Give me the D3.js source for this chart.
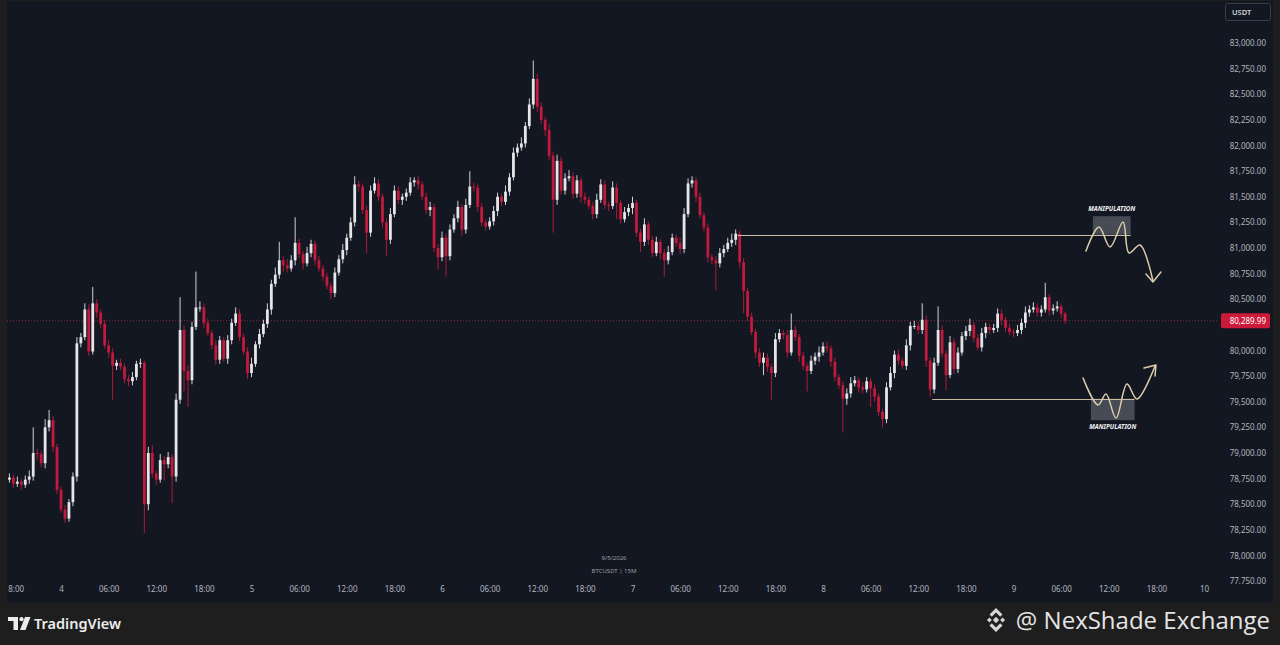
<!DOCTYPE html>
<html><head><meta charset="utf-8">
<script src="https://cdn.jsdelivr.net/npm/d3@7"></script>
<style>
html,body{margin:0;padding:0;background:#1e1e1e;overflow:hidden}
svg{display:block}
</style></head><body>
<svg id="c" width="1280" height="645"></svg>
<script>
// ---- DATA (BTCUSDT, 30-minute steps) ----
const firstCandle = "2026-05-03T17:30:00Z";
const candleMinutes = 30;
const firstOpen = 78740;
const closes = [
78760,78700,78720,78690,78740,78770,79000,78990,78900,79250,
79320,79060,78640,78450,78360,78520,78770,80070,80130,80400,
79990,80460,80370,80260,80050,79980,79850,79880,79840,79720,
79700,79740,79870,79880,78500,79000,78800,78740,78930,78890,
78960,78770,79520,80200,79800,79710,80230,80420,80420,80270,
80170,80050,79910,80100,79920,80100,80270,80360,80130,79990,
79780,79870,80060,80160,80260,80400,80650,80740,80880,80830,
80800,80880,81050,80940,80850,80950,81040,80880,80800,80720,
80630,80560,80760,80890,80980,81100,81250,81620,81600,81370,
81150,81560,81630,81500,81250,81080,81330,81560,81470,81500,
81540,81640,81660,81620,81500,81370,81400,81000,80910,81100,
80920,81180,81290,81400,81180,81420,81600,81590,81400,81250,
81210,81260,81360,81500,81450,81550,81690,81930,81980,82020,
82190,82400,82650,82380,82250,82150,81900,81470,81850,81560,
81680,81700,81530,81660,81500,81470,81410,81330,81470,81620,
81420,81410,81590,81440,81280,81350,81390,81440,81150,81060,
81230,81080,80950,81060,80950,80880,80960,81100,81050,80990,
81330,81630,81660,81500,81320,81200,80910,80880,80850,80950,
80990,81050,81080,81140,80860,80580,80330,80180,79980,79880,
79930,79840,79780,80110,80170,80150,79980,80200,80130,79950,
79850,79800,79900,79940,79980,80040,80020,79890,79740,79660,
79530,79580,79680,79710,79640,79620,79700,79630,79550,79400,
79330,79640,79780,79960,79900,79850,80050,80240,80240,80200,
80300,79900,79620,79880,80200,79970,79760,80080,79820,79980,
80140,80190,80250,80120,80030,80170,80230,80200,80220,80360,
80300,80220,80180,80170,80200,80270,80370,80400,80420,80370,
80400,80520,80390,80410,80430,80360,80289.99];
const wickUp = [
40,30,50,30,40,60,250,40,30,80, 100,40,30,30,40,30,40,60,40,60,
50,160,40,30,40,50,40,30,40,30, 40,50,30,40,20,60,80,30,60,40,
50,30,60,320,40,60,50,350,60,40, 40,30,50,40,30,50,40,60,40,30,
40,60,30,50,40,60,40,70,180,40, 60,50,250,40,30,60,40,30,40,30,
40,30,50,40,60,40,50,80,40,30, 40,50,60,40,30,40,60,50,40,30,
40,50,30,40,30,40,50,30,40,60, 40,50,40,60,30,60,150,40,30,40,
30,40,50,40,30,60,40,50,40,60, 40,60,180,50,40,30,60,40,60,40,
50,60,40,50,30,40,30,40,60,50, 40,30,60,40,30,50,40,60,30,40,
60,30,40,50,30,40,60,40,30,50, 60,50,40,30,40,30,40,30,40,50,
40,50,60,40,30,40,30,40,30,40, 50,40,30,60,40,30,50,160,40,30,
40,30,50,40,60,40,50,30,40,30, 40,50,60,40,30,50,40,30,40,30,
30,50,60,40,50,30,60,40,50,40, 160,40,30,50,230,40,30,60,40,50,
40,50,60,30,40,50,40,30,40,50, 40,30,40,30,50,40,60,40,50,40,
40,140,30,40,50,30,20];
const wickDn = [
30,40,30,50,30,40,40,60,40,50, 40,50,40,30,40,30,40,50,40,30,
40,30,50,40,30,50,330,40,30,40, 50,40,30,40,280,60,40,50,30,160,
40,260,50,40,200,260,40,30,40,50, 30,40,50,40,30,50,40,30,40,30,
60,40,30,40,30,40,50,30,40,60, 40,30,50,40,60,30,40,50,30,40,
30,60,40,30,40,50,30,40,50,40, 200,40,30,40,50,160,40,30,40,50,
40,30,40,50,30,40,60,40,125,40, 200,40,30,40,60,40,30,40,50,40,
40,30,40,50,40,30,40,30,40,30, 40,30,40,50,40,60,40,320,50,40,
40,30,50,40,60,40,30,50,40,30, 40,50,30,160,40,30,40,60,40,100,
40,50,40,30,60,160,40,30,40,50, 40,30,40,50,30,40,50,40,260,40,
40,30,40,50,60,215,40,30,50,40, 120,50,260,40,30,40,50,30,40,60,
40,200,30,40,50,30,40,50,40,30, 330,60,40,30,50,40,30,180,50,40,
80,40,30,50,40,30,40,50,30,40, 40,60,70,40,30,40,150,30,50,40,
30,40,50,40,30,40,50,40,30,40, 50,40,30,40,30,40,50,40,30,40,
40,30,50,40,30,40,30];
const lastPrice = 80289.99;
// 80,250 is hidden behind the last-price label in the reference
const priceTicks = [77750,78000,78250,78500,78750,79000,79250,79500,79750,80000,80500,
  80750,81000,81250,81500,81750,82000,82250,82500,82750,83000];
const timeTickTimes = ["2026-05-03T18:00Z","2026-05-04T00:00Z","2026-05-04T06:00Z","2026-05-04T12:00Z","2026-05-04T18:00Z",
  "2026-05-05T00:00Z","2026-05-05T06:00Z","2026-05-05T12:00Z","2026-05-05T18:00Z",
  "2026-05-06T00:00Z","2026-05-06T06:00Z","2026-05-06T12:00Z","2026-05-06T18:00Z",
  "2026-05-07T00:00Z","2026-05-07T06:00Z","2026-05-07T12:00Z","2026-05-07T18:00Z",
  "2026-05-08T00:00Z","2026-05-08T06:00Z","2026-05-08T12:00Z","2026-05-08T18:00Z",
  "2026-05-09T00:00Z","2026-05-09T06:00Z","2026-05-09T12:00Z","2026-05-09T18:00Z","2026-05-10T00:00Z"];
const timeTickLabels = ["18:00","4","06:00","12:00","18:00","5","06:00","12:00","18:00","6","06:00","12:00","18:00",
  "7","06:00","12:00","18:00","8","06:00","12:00","18:00","9","06:00","12:00","18:00","10"];
// drawn levels and zones
const levelTop = {from:"2026-05-07T13:15Z", to:"2026-05-09T14:45Z", price:81130};
const levelBottom = {from:"2026-05-08T13:45Z", to:"2026-05-09T15:15Z", price:79527};
const zoneTop = {from:"2026-05-09T10:00Z", to:"2026-05-09T14:45Z", lo:81130, hi:81310};
const zoneBottom = {from:"2026-05-09T09:45Z", to:"2026-05-09T15:15Z", lo:79320, hi:79530};
// hand-drawn paths: [hours after 4 May 00:00, price]
const pathTop = [[129.13,80971],[130.77,81205],[132.16,81010],[133.80,81254],[134.55,80951],[135.94,81029],[137.57,80678]];
const arrowTop = [[136.69,80746],[137.57,80668],[138.58,80766]];
const pathBottom = [[128.76,79732],[130.65,79468],[131.65,79576],[132.91,79341],[134.30,79673],[135.56,79527],[137.83,79849]];
const arrowBottom = [[136.44,79829],[137.95,79859],[137.83,79751]];

// ---- DRAWING ----
const svg = d3.select("#c");
const UP = "#e6e6ea", DN = "#c21a3c", PANEL = "#131722";
const base = Date.parse("2026-05-04T00:00:00Z");
const x = d3.scaleUtc().domain([new Date("2026-05-04T00:00Z"), new Date("2026-05-10T00:00Z")]).range([61,1204]);
const y = d3.scaleLinear().domain([77750,83000]).range([581.1,43]);
const hx = h => x(new Date(base + h*3600e3));

svg.append("rect").attr("width",1280).attr("height",645).attr("fill","#1e1e1e");
svg.append("rect").attr("x",7).attr("y",1).attr("width",1266).attr("height",602).attr("fill",PANEL);

const defs = svg.append("defs");
defs.append("clipPath").attr("id","plot").append("rect").attr("x",7).attr("y",1).attr("width",1211).attr("height",582);
defs.append("clipPath").attr("id","taxis").append("rect").attr("x",7).attr("y",583).attr("width",1211).attr("height",20);
defs.append("clipPath").attr("id","paxis").append("rect").attr("x",1218).attr("y",1).attr("width",55).attr("height",583);

const t0 = Date.parse(firstCandle);
const candles = closes.map((c,i) => {
  const o = i ? closes[i-1] : firstOpen;
  return {t:new Date(t0 + i*candleMinutes*60000), o, c,
          h:Math.max(o,c)+wickUp[i], l:Math.min(o,c)-wickDn[i]};
});

const plot = svg.append("g").attr("clip-path","url(#plot)");
// current price dotted line
plot.append("line").attr("x1",7).attr("x2",1218).attr("y1",y(lastPrice)).attr("y2",y(lastPrice))
  .attr("stroke","#a82a3c").attr("stroke-width",1).attr("stroke-dasharray","1,2").attr("opacity",0.8);

const cg = plot.append("g");
cg.selectAll("line.w").data(candles).join("line").attr("class","w")
  .attr("x1",d=>x(d.t)).attr("x2",d=>x(d.t)).attr("y1",d=>y(d.h)).attr("y2",d=>y(d.l))
  .attr("stroke",d=>d.c>=d.o?UP:DN).attr("stroke-width",0.9);
cg.selectAll("rect.b").data(candles).join("rect").attr("class","b")
  .attr("x",d=>x(d.t)-1.4).attr("width",2.8)
  .attr("y",d=>y(Math.max(d.o,d.c))).attr("height",d=>Math.max(1,Math.abs(y(d.o)-y(d.c))))
  .attr("fill",d=>d.c>=d.o?UP:DN);

// annotations
const BEIGE = "#dccdab";
[zoneTop, zoneBottom].forEach(z => {
  plot.append("rect").attr("x",x(new Date(z.from))).attr("width",x(new Date(z.to))-x(new Date(z.from)))
    .attr("y",y(z.hi)).attr("height",y(z.lo)-y(z.hi)).attr("fill","#5b5f69").attr("opacity",0.72);
});
[levelTop, levelBottom].forEach(l => {
  plot.append("line").attr("x1",x(new Date(l.from))).attr("x2",x(new Date(l.to)))
    .attr("y1",Math.round(y(l.price))+0.5).attr("y2",Math.round(y(l.price))+0.5)
    .attr("stroke",BEIGE).attr("stroke-width",1).attr("opacity",0.9);
});
const curve = d3.line().x(d=>hx(d[0])).y(d=>y(d[1])).curve(d3.curveCatmullRom.alpha(0.5));
const straight = d3.line().x(d=>hx(d[0])).y(d=>y(d[1]));
[pathTop, pathBottom].forEach(p => plot.append("path").attr("d",curve(p)).attr("fill","none")
  .attr("stroke",BEIGE).attr("stroke-width",1.5).attr("stroke-linecap","round"));
[arrowTop, arrowBottom].forEach(p => plot.append("path").attr("d",straight(p)).attr("fill","none")
  .attr("stroke",BEIGE).attr("stroke-width",1.5).attr("stroke-linecap","round").attr("stroke-linejoin","round"));
const manip = [[zoneTop, zoneTop.hi, -5], [zoneBottom, zoneBottom.lo, 9]];
manip.forEach(([z,p,dy]) => {
  const cx = (x(new Date(z.from)) + x(new Date(z.to)))/2;
  plot.append("text").attr("x",cx).attr("y",y(p)+dy).attr("text-anchor","middle")
    .attr("font-family","Noto Sans, sans-serif").attr("font-size",6.3).attr("font-weight",700)
    .attr("font-style","italic").attr("fill","#f2f2f2").text("MANIPULATION");
});

// centre symbol text
svg.append("text").attr("x",614).attr("y",560).attr("text-anchor","middle").attr("font-family","Noto Sans, sans-serif")
  .attr("font-size",6).attr("fill","#9a9da6").text("9/5/2026");
svg.append("text").attr("x",614).attr("y",573).attr("text-anchor","middle").attr("font-family","Noto Sans, sans-serif")
  .attr("font-size",6).attr("fill","#9a9da6").text("BTCUSDT | 15M");

// price axis
const pa = svg.append("g").attr("clip-path","url(#paxis)").append("g").attr("transform","translate(1266,0)")
  .call(d3.axisRight(y).tickValues(priceTicks).tickFormat(d3.format(",.2f")).tickSize(0).tickPadding(0));
pa.select(".domain").remove();
pa.selectAll("text").attr("text-anchor","end").attr("fill","#b2b5be").attr("font-size",8)
  .attr("font-family","Noto Sans, sans-serif");

// last price label
svg.append("rect").attr("x",1221).attr("y",y(lastPrice)-7.5).attr("width",49).attr("height",15).attr("rx",2).attr("fill","#cc1a3b");
svg.append("text").attr("x",1266).attr("y",y(lastPrice)+3).attr("text-anchor","end").attr("fill","#ffffff")
  .attr("font-size",8).attr("font-family","Noto Sans, sans-serif").text(d3.format(",.2f")(lastPrice));

// USDT box
svg.append("rect").attr("x",1225.5).attr("y",3.5).attr("width",45).attr("height",17).attr("rx",2)
  .attr("fill",PANEL).attr("stroke","#3a3e4a");
svg.append("text").attr("x",1232).attr("y",15).attr("fill","#d1d4dc").attr("font-size",7.5).attr("font-weight",600)
  .attr("font-family","Noto Sans, sans-serif").text("USDT");

// time axis
const ta = svg.append("g").attr("clip-path","url(#taxis)").append("g").attr("transform","translate(0,586)")
  .call(d3.axisBottom(x).tickValues(timeTickTimes.map(s=>new Date(s))).tickFormat((d,i)=>timeTickLabels[i]).tickSize(0).tickPadding(0));
ta.select(".domain").remove();
ta.selectAll("text").attr("fill","#b2b5be").attr("font-size",8).attr("font-family","Noto Sans, sans-serif").attr("dy","0.71em");

// footer: TradingView logo
const lg = svg.append("g").attr("fill","#ececec");
lg.append("path").attr("d","M8,617 H18 V630 H13.5 V621 H8 Z");
lg.append("circle").attr("cx",21.5).attr("cy",619.2).attr("r",2.1);
lg.append("path").attr("d","M25,617 H30.5 L25.5,630 H20 Z");
svg.append("text").attr("x",34).attr("y",629).attr("fill","#ececec").attr("font-size",14.5).attr("font-weight",600)
  .attr("font-family","Noto Sans, sans-serif").text("TradingView");

// footer: watermark
const bi = svg.append("g").attr("fill","#d6d6d6").attr("transform","translate(996,620)");
bi.append("path").attr("d","M0,-3.2 L3.2,0 L0,3.2 L-3.2,0 Z");
bi.append("path").attr("d","M-9,0 L-6.6,-2.4 L-4.2,0 L-6.6,2.4 Z");
bi.append("path").attr("d","M9,0 L6.6,-2.4 L4.2,0 L6.6,2.4 Z");
bi.append("path").attr("d","M0,-12 L6.5,-5.5 L4.2,-3.2 L0,-7.4 L-4.2,-3.2 L-6.5,-5.5 Z");
bi.append("path").attr("d","M0,12 L6.5,5.5 L4.2,3.2 L0,7.4 L-4.2,3.2 L-6.5,5.5 Z");
svg.append("text").attr("x",1270).attr("y",629).attr("text-anchor","end").attr("fill","#e4e4e4").attr("font-size",24)
  .attr("font-family","Open Sans, Noto Sans, sans-serif").text("@ NexShade Exchange");
</script>
</body></html>
